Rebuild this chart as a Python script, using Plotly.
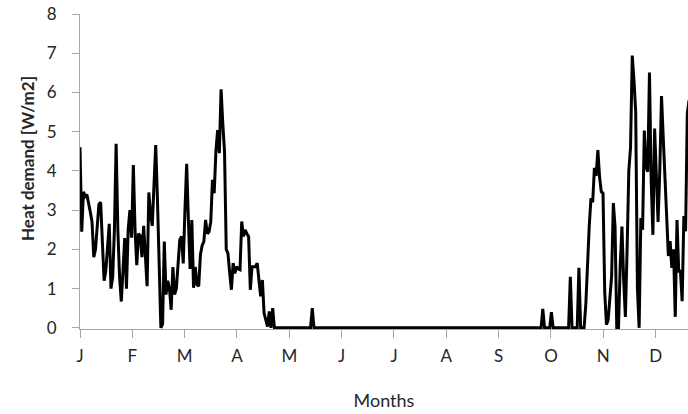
import plotly.graph_objects as go

# ---- data (daily heat demand, W/m2) ----
month_labels = ["J", "F", "M", "A", "M", "J", "J", "A", "S", "O", "N", "D"]
y_tick_values = [0, 1, 2, 3, 4, 5, 6, 7, 8]

# days 0-113 (January - April)
winter_spring = [
    4.6, 2.45, 3.47, 3.35, 3.4, 3.2, 2.95, 2.7, 1.8, 2.0,
    2.6, 3.15, 3.2, 2.2, 1.2, 1.45, 2.0, 2.65, 1.0, 1.3,
    2.5, 4.69, 2.5, 1.3, 0.67, 1.5, 2.29, 1.0, 2.5, 3.0,
    2.3, 4.15, 2.5, 1.6, 2.4, 2.35, 1.8, 2.6, 1.7, 1.06,
    3.45, 2.9, 2.6, 3.9, 4.66, 3.3, 1.6, 0.0, 0.1, 2.2,
    0.85, 1.2, 1.0, 0.46, 1.55, 0.85, 1.0, 1.7, 2.24, 2.33,
    1.64, 3.0, 4.18, 2.75, 1.5, 2.75, 1.02, 1.55, 1.1, 1.06,
    1.87, 2.1, 2.2, 2.75, 2.4, 2.45, 2.7, 3.77, 3.43, 4.5,
    5.04, 4.45, 6.08, 5.2, 4.5, 2.0, 1.9, 1.4, 0.97, 1.65,
    1.39, 1.56, 1.5, 1.48, 2.71, 2.33, 2.5, 2.4, 2.33, 0.97,
    1.56, 1.56, 1.56, 1.65, 1.2, 0.8, 1.22, 0.37, 0.2, 0.03,
    0.42, 0.0, 0.5, 0.0,
]

# days 114-268 (May - September)
summer = [
    0, 0, 0, 0, 0, 0, 0, 0, 0, 0, 0, 0, 0, 0, 0, 0, 0, 0, 0, 0, 0,
    0.5,
    0, 0, 0, 0, 0, 0, 0, 0, 0, 0, 0, 0, 0, 0, 0, 0, 0, 0, 0, 0,
    0, 0, 0, 0, 0, 0, 0, 0, 0, 0, 0, 0, 0, 0, 0, 0, 0, 0, 0, 0,
    0, 0, 0, 0, 0, 0, 0, 0, 0, 0, 0, 0, 0, 0, 0, 0, 0, 0, 0, 0,
    0, 0, 0, 0, 0, 0, 0, 0, 0, 0, 0, 0, 0, 0, 0, 0, 0, 0, 0, 0,
    0, 0, 0, 0, 0, 0, 0, 0, 0, 0, 0, 0, 0, 0, 0, 0, 0, 0, 0, 0,
    0, 0, 0, 0, 0, 0, 0, 0, 0, 0, 0, 0, 0, 0, 0, 0, 0, 0, 0, 0,
    0, 0, 0, 0, 0, 0, 0, 0, 0, 0, 0, 0, 0,
]

# days 269-354 (October - December)
autumn_winter = [
    0.48, 0, 0, 0, 0, 0.4, 0, 0, 0, 0,
    0, 0, 0, 0, 0, 0, 1.3, 0, 0, 0,
    0, 1.53, 0, 0, 0, 0.6, 1.86, 2.6, 3.3, 3.2,
    4.08, 3.87, 4.53, 3.85, 3.47, 3.43, 0.9, 0.08, 0.2, 0.8,
    1.31, 3.18, 2.58, 0.0, 0.0, 1.6, 2.58, 1.22, 0.28, 2.0,
    4.0, 4.6, 6.94, 6.3, 5.5, 1.0, 0.0, 2.8, 2.5, 5.03,
    4.1, 3.98, 6.51, 3.77, 2.37, 5.08, 3.9, 2.7, 4.0, 5.91,
    4.85, 3.8, 3.06, 1.83, 2.21, 1.53, 2.0, 0.28, 2.75, 1.44,
    1.44, 0.68, 2.85, 2.46, 5.46, 5.8,
]

heat_demand = winter_spring + summer + autumn_winter
days = list(range(len(heat_demand)))
month_len = 365 / 12
month_ticks = [i * month_len for i in range(len(month_labels))]

FONT = "Lato"
TXT = "#262626"
AXIS = "#a6a6a6"

fig = go.Figure(
    go.Scatter(
        x=days,
        y=heat_demand,
        mode="lines",
        line=dict(color="black", width=3),
        hoverinfo="x+y",
        showlegend=False,
    )
)

fig.update_layout(
    width=688,
    height=414,
    autosize=False,
    margin=dict(l=80, r=0, t=14, b=85),
    paper_bgcolor="white",
    plot_bgcolor="white",
    font=dict(family=FONT, color=TXT),
    annotations=[
        dict(
            text="<b>Heat demand [W/m2]</b>",
            textangle=-90,
            xref="paper", yref="paper",
            x=(27 - 80) / 608, y=(414 - 85 - 159) / 315,
            xanchor="center", yanchor="middle",
            showarrow=False,
            font=dict(family=FONT, size=17, color=TXT),
        )
    ],
)

fig.update_xaxes(
    range=[0, 353.4],
    tickmode="array",
    tickvals=month_ticks,
    ticktext=month_labels,
    ticks="outside",
    ticklen=8,
    tickcolor=AXIS,
    tickwidth=1,
    showline=True,
    linecolor=AXIS,
    linewidth=1,
    showgrid=False,
    zeroline=False,
    layer="below traces",
    tickfont=dict(family=FONT, size=17, color=TXT),
    ticklabelstandoff=4,
    title=dict(text="Months", font=dict(family=FONT, size=18, color=TXT), standoff=28),
)

fig.update_yaxes(
    range=[-0.03, 8],
    tickmode="array",
    tickvals=y_tick_values,
    ticks="outside",
    ticklen=7,
    tickcolor=AXIS,
    tickwidth=1,
    showline=True,
    linecolor=AXIS,
    linewidth=1,
    showgrid=False,
    zeroline=False,
    layer="below traces",
    tickfont=dict(family=FONT, size=17, color=TXT),
    ticklabelstandoff=12,
)

fig.write_html(
    "out.html",
    config={"displayModeBar": False},
    post_script="document.body.style.margin='0';document.body.style.overflow='hidden';",
)
